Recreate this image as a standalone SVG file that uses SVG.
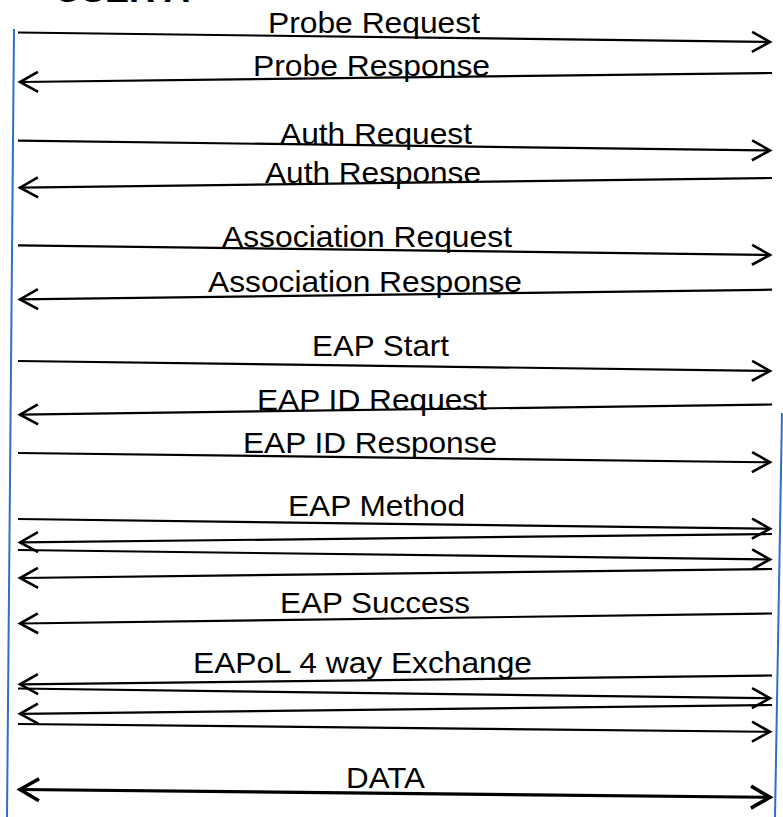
<svg xmlns="http://www.w3.org/2000/svg" width="783" height="817" viewBox="0 0 783 817">
  <style>
    .lifeline { stroke: #2a72c6; stroke-width: 2; fill: none; }
    .msg { stroke: #000; stroke-width: 2.2; fill: none; marker-end: url(#head); }
    .msg-bold { stroke: #000; stroke-width: 3.2; fill: none; marker-end: url(#headBold); marker-start: url(#headBold); }
    .label { font-family: "Liberation Sans", Arial, sans-serif; font-size: 29px; fill: #000; }
    .title { font-family: "Liberation Sans", Arial, sans-serif; font-size: 36px; font-weight: bold; fill: #000; }
  </style>
  <defs>
    <!-- open chevron arrowhead, tip at the path end -->
    <marker id="head" viewBox="-22 -13 26 26" markerWidth="26" markerHeight="26" refX="0" refY="0" markerUnits="userSpaceOnUse" orient="auto-start-reverse">
      <path d="M-18,-10 L0,0 L-18,10" fill="none" stroke="#000" stroke-width="2.6" stroke-linejoin="miter"/>
    </marker>
    <marker id="headBold" viewBox="-24 -14 28 28" markerWidth="28" markerHeight="28" refX="0" refY="0" markerUnits="userSpaceOnUse" orient="auto-start-reverse">
      <path d="M-19,-11 L0,0 L-19,11" fill="none" stroke="#000" stroke-width="3.6" stroke-linejoin="miter"/>
    </marker>
  </defs>

  <rect x="0" y="0" width="783" height="817" fill="#fff"/>

  <!-- station lifeline -->
  <g id="node-user">
    <text class="title" x="55" y="2">USER A</text>
    <line class="lifeline" x1="14" y1="29" x2="7" y2="817"/>
  </g>

  <!-- access point lifeline -->
  <g id="node-ap">
    <line class="lifeline" x1="782" y1="413" x2="775" y2="817"/>
  </g>

  <!-- message exchange -->
  <g id="connectors">
    <g id="probe-request">
      <line class="msg" x1="18" y1="32.5" x2="770" y2="42"/>
      <text class="label" x="268" y="33" textLength="212" lengthAdjust="spacingAndGlyphs">Probe Request</text>
    </g>
    <g id="probe-response">
      <line class="msg" x1="772" y1="73" x2="20" y2="82"/>
      <text class="label" x="253" y="76" textLength="237" lengthAdjust="spacingAndGlyphs">Probe Response</text>
    </g>
    <g id="auth-request">
      <line class="msg" x1="18" y1="140.6" x2="770" y2="150.5"/>
      <text class="label" x="280" y="144" textLength="192" lengthAdjust="spacingAndGlyphs">Auth Request</text>
    </g>
    <g id="auth-response">
      <line class="msg" x1="772" y1="178" x2="20" y2="187.6"/>
      <text class="label" x="265" y="183" textLength="216" lengthAdjust="spacingAndGlyphs">Auth Response</text>
    </g>
    <g id="association-request">
      <line class="msg" x1="18" y1="245.3" x2="770" y2="255"/>
      <text class="label" x="222" y="247" textLength="290" lengthAdjust="spacingAndGlyphs">Association Request</text>
    </g>
    <g id="association-response">
      <line class="msg" x1="772" y1="289.7" x2="20" y2="299.4"/>
      <text class="label" x="208" y="292" textLength="314" lengthAdjust="spacingAndGlyphs">Association Response</text>
    </g>
    <g id="eap-start">
      <line class="msg" x1="18" y1="361" x2="770" y2="371"/>
      <text class="label" x="312" y="356" textLength="137" lengthAdjust="spacingAndGlyphs">EAP Start</text>
    </g>
    <g id="eap-id-request">
      <line class="msg" x1="772" y1="404.5" x2="20" y2="414.6"/>
      <text class="label" x="257" y="410" textLength="230" lengthAdjust="spacingAndGlyphs">EAP ID Request</text>
    </g>
    <g id="eap-id-response">
      <line class="msg" x1="18" y1="453" x2="770" y2="462.3"/>
      <text class="label" x="243" y="453" textLength="254" lengthAdjust="spacingAndGlyphs">EAP ID Response</text>
    </g>
    <g id="eap-method">
      <text class="label" x="288" y="516" textLength="177" lengthAdjust="spacingAndGlyphs">EAP Method</text>
      <line class="msg" x1="18" y1="519" x2="770" y2="528.8"/>
      <line class="msg" x1="772" y1="534" x2="20" y2="542.4"/>
      <line class="msg" x1="18" y1="550" x2="770" y2="559.5"/>
      <line class="msg" x1="772" y1="569" x2="20" y2="578"/>
    </g>
    <g id="eap-success">
      <line class="msg" x1="772" y1="613.5" x2="20" y2="623.5"/>
      <text class="label" x="280" y="613" textLength="190" lengthAdjust="spacingAndGlyphs">EAP Success</text>
    </g>
    <g id="eapol-4way">
      <text class="label" x="193" y="673" textLength="339" lengthAdjust="spacingAndGlyphs">EAPoL 4 way Exchange</text>
      <line class="msg" x1="772" y1="675.5" x2="20" y2="684.3"/>
      <line class="msg" x1="18" y1="688.5" x2="770" y2="698.3"/>
      <line class="msg" x1="772" y1="705" x2="20" y2="713.8"/>
      <line class="msg" x1="18" y1="724" x2="770" y2="731.8"/>
    </g>
    <g id="data">
      <line class="msg-bold" x1="20" y1="789.5" x2="770" y2="797.3"/>
      <text class="label" x="346" y="788" textLength="79" lengthAdjust="spacingAndGlyphs">DATA</text>
    </g>
  </g>
</svg>
